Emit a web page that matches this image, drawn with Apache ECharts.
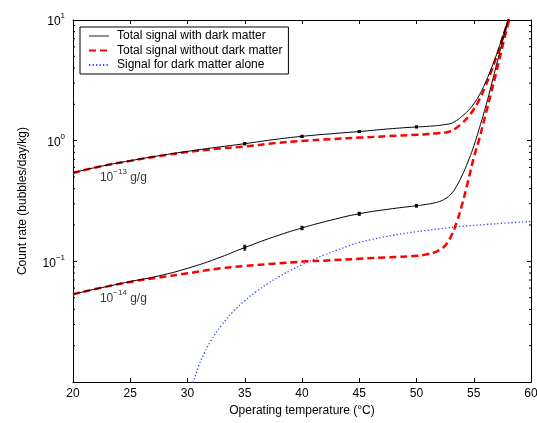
<!DOCTYPE html>
<html>
<head>
<meta charset="utf-8">
<script src="https://cdn.jsdelivr.net/npm/echarts@6/dist/echarts.min.js"></script>
<style>html,body{margin:0;padding:0;background:#fff}#c{width:537px;height:423px}</style>
</head>
<body>
<div id="c"></div>
<script>
// ---- data ----
const temps = [20,22.5,25,27.5,30,32.5,35,37.5,40,42.5,45,47.5,50,50.5,51,51.5,52,52.5,53,53.5,54,54.5,55,55.5,56,56.5,57,57.5,58,58.3];
const withDM13 = [0.542,0.615,0.682,0.75,0.815,0.88,0.944,1.02,1.086,1.14,1.19,1.25,1.30,1.305,1.315,1.325,1.34,1.36,1.39,1.47,1.6,1.77,2.02,2.4,3.0,3.9,5.2,7.2,10.0,12.3];
const noDM13   = [0.54,0.615,0.68,0.745,0.805,0.855,0.895,0.95,0.995,1.03,1.06,1.09,1.12,1.125,1.135,1.145,1.155,1.17,1.2,1.28,1.4,1.57,1.82,2.2,2.8,3.7,5.0,7.0,9.8,12];
const withDM14 = [0.0534,0.0605,0.068,0.0758,0.0875,0.105,0.130,0.159,0.189,0.219,0.248,0.27,0.289,0.293,0.298,0.304,0.313,0.33,0.36,0.42,0.52,0.67,0.9,1.28,1.85,2.8,4.3,6.6,10,13];
const noDM14   = [0.0534,0.0605,0.0675,0.0735,0.0795,0.0865,0.0915,0.0955,0.0995,0.102,0.105,0.108,0.111,0.1125,0.115,0.118,0.124,0.135,0.16,0.21,0.30,0.46,0.72,1.05,1.6,2.45,3.8,6.0,9.3,12];
const dmTemps = [30.3,30.5,31,31.5,32,33,34,35,36,37,38,39,40,41,42,43,44,45,46,47,48,49,50,51,52,54,56,58,60];
const dmAlone = [0.0093,0.01,0.0138,0.0176,0.0216,0.0298,0.0384,0.0471,0.0561,0.0653,0.0746,0.0842,0.0937,0.1035,0.1135,0.1234,0.1334,0.1435,0.151,0.158,0.1645,0.1705,0.176,0.181,0.186,0.195,0.202,0.208,0.214];
// error-bar points: temperature, value, half-width
const errTemps = [35,40,45,50];
const err13Vals = [0.944,1.086,1.19,1.30];
const err13Half = [0.02,0.02,0.02,0.02];
const err14Vals = [0.130,0.189,0.248,0.289];
const err14Half = [0.006,0.006,0.007,0.007];
const minorVals = [0.02,0.03,0.04,0.05,0.06,0.07,0.08,0.09,0.2,0.3,0.4,0.5,0.6,0.7,0.8,0.9,2,3,4,5,6,7,8,9];
const xTicks = {min:20, max:60, interval:5};
const yRange = {min:0.01, max:10};
const labels = [
  {t:22.35, v:0.512, exp:'\u221213'},
  {t:22.35, v:0.0505, exp:'\u221214'}
];
const names = ['Total signal with dark matter','Total signal without dark matter','Signal for dark matter alone'];

const FONT = 'Liberation Sans, Arial, Helvetica, sans-serif';
const pairs = (xs, ys) => xs.map((x,i)=>[x, ys[i]]);

const chart = echarts.init(document.getElementById('c'), null, {renderer:'canvas'});

function expLabel(v){
  const e = Math.round(Math.log10(v));
  if (e === -2) return '';
  const s = e < 0 ? '\u2212' + (-e) : String(e);
  return '{b|10}{s|' + s + '}';
}

const axisCommon = {
  axisLine:{show:true, onZero:false, lineStyle:{color:'#000', width:1}},
  axisTick:{show:true, inside:true, length:4, lineStyle:{color:'#000', width:1}},
  splitLine:{show:false}
};

const errRender = (params, api) => {
  const t = api.value(0), v = api.value(1), h = api.value(2);
  const pTop = api.coord([t, v + h]);
  const pBot = api.coord([t, v - h]);
  const pMid = api.coord([t, v]);
  const st = {stroke:'#000', lineWidth:1};
  return {type:'group', children:[
    {type:'line', shape:{x1:pMid[0], y1:pTop[1], x2:pMid[0], y2:pBot[1]}, style:st},
    {type:'line', shape:{x1:pMid[0]-1.5, y1:pTop[1], x2:pMid[0]+1.5, y2:pTop[1]}, style:st},
    {type:'line', shape:{x1:pMid[0]-1.5, y1:pBot[1], x2:pMid[0]+1.5, y2:pBot[1]}, style:st},
    {type:'rect', shape:{x:pMid[0]-1.5, y:pMid[1]-1.5, width:3, height:3}, style:{fill:'#000'}}
  ]};
};

const lineSeries = (name, xs, ys, color, width, type, z) => ({
  name, type:'line', data:pairs(xs, ys), showSymbol:false, symbol:'none', legendIcon:'none',
  smooth:0.5, lineStyle:{color, width, type}, itemStyle:{color, opacity:0}, z
});

const option = {
  animation:false,
  backgroundColor:'#fff',
  textStyle:{fontFamily:FONT},
  grid:{left:73, right:6, top:20, bottom:41, outerBoundsMode:'none'},
  legend:{
    data:[
      {name:names[0], lineStyle:{width:1, color:'#222'}},
      {name:names[1]},
      {name:names[2]}
    ],
    orient:'vertical', left:80, top:27,
    backgroundColor:'#fff', borderColor:'#000', borderWidth:1, borderRadius:0,
    padding:[3,6,3,8], itemGap:2.5, itemWidth:20, itemHeight:12,
    itemStyle:{opacity:0},
    textStyle:{fontFamily:FONT, fontSize:12, color:'#000', padding:[0,0,0,3]}
  },
  xAxis:[
    Object.assign({type:'value', position:'bottom', min:xTicks.min, max:xTicks.max, interval:xTicks.interval,
      name:'Operating temperature (\u00b0C)', nameLocation:'middle', nameGap:22,
      nameTextStyle:{fontFamily:FONT, fontSize:12, color:'#000'},
      axisLabel:{color:'#000', fontFamily:FONT, fontSize:12, margin:6}}, axisCommon),
    Object.assign({type:'value', position:'top', min:xTicks.min, max:xTicks.max, interval:xTicks.interval,
      axisLabel:{show:false}}, axisCommon)
  ],
  yAxis:[
    Object.assign({type:'log', logBase:10, position:'left', min:yRange.min, max:yRange.max,
      name:'Count rate (bubbles/day/kg)', nameLocation:'middle', nameGap:44, nameRotate:90,
      nameTextStyle:{fontFamily:FONT, fontSize:12, color:'#000'},
      axisLabel:{color:'#000', fontFamily:FONT, margin:8, formatter:expLabel,
        rich:{b:{fontSize:12, fontFamily:FONT, color:'#000', lineHeight:16, verticalAlign:'bottom'},
              s:{fontSize:8, fontFamily:FONT, color:'#000', lineHeight:16, verticalAlign:'top'}}}}, axisCommon),
    Object.assign({type:'log', logBase:10, position:'right', min:yRange.min, max:yRange.max,
      axisLabel:{show:false}}, axisCommon)
  ],
  series:[
    lineSeries(names[0], temps, withDM13, '#000', 1, 'solid', 5),
    lineSeries(names[1], temps, noDM13, '#ff0000', 2.5, [7,4], 4),
    lineSeries(names[0], temps, withDM14, '#000', 1, 'solid', 5),
    lineSeries(names[1], temps, noDM14, '#ff0000', 2.5, [7,4], 4),
    lineSeries(names[2], dmTemps, dmAlone, '#3344ff', 1.3, [1.3,2.2], 3),
    {type:'custom', name:'err13', data:errTemps.map((t,i)=>[t, err13Vals[i], err13Half[i]]), renderItem:errRender, z:6, silent:true},
    {type:'custom', name:'err14', data:errTemps.map((t,i)=>[t, err14Vals[i], err14Half[i]]), renderItem:errRender, z:6, silent:true},
    {type:'custom', name:'minor', clip:false, silent:true, z:7,
      data:minorVals.map(v=>[xTicks.min, v]),
      renderItem:(params, api)=>{
        const v = api.value(1);
        const pL = api.coord([xTicks.min, v]);
        const pR = api.coord([xTicks.max, v]);
        const st = {stroke:'#000', lineWidth:1};
        return {type:'group', children:[
          {type:'line', shape:{x1:pL[0], y1:pL[1], x2:pL[0]+2, y2:pL[1]}, style:st},
          {type:'line', shape:{x1:pR[0]-2, y1:pR[1], x2:pR[0], y2:pR[1]}, style:st}
        ]};
      }},
    {type:'scatter', name:'annot', silent:true, symbolSize:0, z:8,
      data:labels.map(l=>({value:[l.t, l.v]})),
      label:{show:true, position:'right', distance:0,
        formatter:(p)=>'{b|10}{s|' + labels[p.dataIndex].exp + '}{b| g/g}',
        rich:{b:{fontSize:12, fontFamily:FONT, color:'#000', lineHeight:16, verticalAlign:'bottom'},
              s:{fontSize:8, fontFamily:FONT, color:'#000', lineHeight:16, verticalAlign:'top'}}}}
  ]
};
chart.setOption(option);
</script>
</body>
</html>
